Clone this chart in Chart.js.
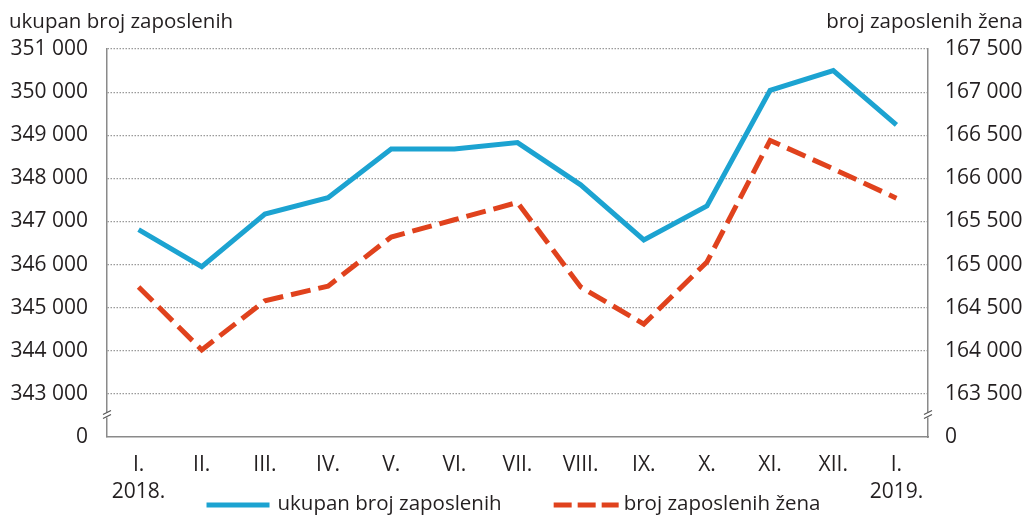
<!DOCTYPE html>
<html>
<head>
<meta charset="utf-8">
<script src="https://cdn.jsdelivr.net/npm/chart.js@4/dist/chart.umd.min.js"></script>
<style>
  html, body { margin: 0; padding: 0; background: #fff; overflow: hidden; }
  #wrap { position: relative; width: 1027px; height: 518px; }
</style>
</head>
<body>
<div id="wrap"><canvas id="chart"></canvas></div>
<script>
// months on the x axis, year under the first and the last one
const months = ['I.', 'II.', 'III.', 'IV.', 'V.', 'VI.', 'VII.', 'VIII.', 'IX.', 'X.', 'XI.', 'XII.', 'I.'];
const years = ['2018.', '', '', '', '', '', '', '', '', '', '', '', '2019.'];

// ukupan broj zaposlenih (left axis)
const totalEmployed = [346810, 345950, 347170, 347550, 348680, 348680, 348830, 347850, 346570, 347360, 350040, 350500, 349240];
// broj zaposlenih žena (right axis)
const womenEmployed = [164740, 164010, 164580, 164750, 165320, 165520, 165720, 164740, 164310, 165030, 166440, 166110, 165770];

// axis ranges; the lowest tick is shown as 0 (broken axis)
const leftMin = 342000, leftMax = 351000, leftStep = 1000;
const rightMin = 163000, rightMax = 167500, rightStep = 500;

const labels = months.map((m, i) => years[i] ? [m, years[i]] : m);

const FONT = "'Open Sans', 'Noto Sans', sans-serif";
const TXT = '#231f20';
const AXIS = '#8a8a8a';

function fmt(v) {
  return String(v).replace(/\B(?=(\d{3})+(?!\d))/g, ' ');
}

// titles, axis breaks and the legend (legend overlaps the x label rows, so it is drawn here)
const extras = {
  id: 'extras',
  afterDraw(chart) {
    const ctx = chart.ctx;
    const area = chart.chartArea;
    ctx.save();
    ctx.fillStyle = TXT;
    ctx.font = '20.5px ' + FONT;
    ctx.textBaseline = 'alphabetic';
    ctx.textAlign = 'left';
    ctx.fillText('ukupan broj zaposlenih', 9, 28);
    ctx.textAlign = 'right';
    ctx.fillText('broj zaposlenih žena', chart.width - 4, 28);

    // axis break marks
    for (const id of ['y', 'y1']) {
      const s = chart.scales[id];
      const x = id === 'y' ? area.left : area.right;
      const y = s.getPixelForValue(s.min + s.options.ticks.stepSize / 2);
      ctx.fillStyle = '#fff';
      ctx.fillRect(x - 2, y - 3, 4, 5);
      ctx.strokeStyle = '#555';
      ctx.lineWidth = 1.2;
      ctx.beginPath();
      ctx.moveTo(x - 4, y - 1); ctx.lineTo(x + 4, y - 5);
      ctx.moveTo(x - 4, y + 3); ctx.lineTo(x + 4, y - 1);
      ctx.stroke();
    }

    // legend
    const ly = 505;
    const markW = [63, 65];
    const gap = [8, 5];
    const sep = 52;
    ctx.font = '20.5px ' + FONT;
    const dsets = chart.data.datasets;
    const tw = dsets.map(d => ctx.measureText(d.label).width);
    const total = markW[0] + gap[0] + tw[0] + sep + markW[1] + gap[1] + tw[1];
    let x = chart.width / 2 - total / 2;
    dsets.forEach((d, i) => {
      ctx.strokeStyle = d.borderColor;
      ctx.lineWidth = d.borderWidth;
      ctx.setLineDash(d.borderDash ? [18, 6] : []);
      ctx.beginPath();
      ctx.moveTo(x, ly); ctx.lineTo(x + markW[i], ly);
      ctx.stroke();
      ctx.setLineDash([]);
      x += markW[i] + gap[i];
      ctx.fillStyle = TXT;
      ctx.textAlign = 'left';
      ctx.textBaseline = 'middle';
      ctx.fillText(d.label, x, ly - 1);
      x += tw[i] + sep;
    });
    ctx.restore();
  }
};

new Chart(document.getElementById('chart'), {
  type: 'line',
  data: {
    labels: labels,
    datasets: [
      {
        label: 'ukupan broj zaposlenih',
        data: totalEmployed,
        yAxisID: 'y',
        borderColor: '#1ca3d1',
        backgroundColor: '#1ca3d1',
        borderWidth: 5,
        borderJoinStyle: 'miter',
        pointRadius: 0,
        tension: 0
      },
      {
        label: 'broj zaposlenih žena',
        data: womenEmployed,
        yAxisID: 'y1',
        borderColor: '#e0421d',
        backgroundColor: '#e0421d',
        borderWidth: 5,
        borderDash: [20, 8],
        borderJoinStyle: 'miter',
        pointRadius: 0,
        tension: 0
      }
    ]
  },
  options: {
    responsive: true,
    maintainAspectRatio: false,
    animation: false,
    layout: { padding: { top: 49, left: 0, right: 0, bottom: 12 } },
    plugins: {
      title: { display: false },
      tooltip: { enabled: false },
      legend: { display: false }
    },
    scales: {
      x: {
        offset: true,
        grid: { display: false, drawTicks: false },
        border: { display: true, color: AXIS, width: 1.5 },
        ticks: {
          color: TXT,
          padding: 14,
          maxRotation: 0,
          autoSkip: false,
          font: { family: FONT, size: 21, lineHeight: 1.3 }
        },
        afterFit(scale) { scale.height = 69; }
      },
      y: {
        position: 'left',
        min: leftMin,
        max: leftMax,
        grid: {
          drawTicks: false,
          lineWidth: 1.2,
          color: c => c.tick && c.tick.value === leftMin ? 'rgba(0,0,0,0)' : '#9a9a9a'
        },
        border: { display: true, color: AXIS, width: 1.5, dash: [1.5, 1.5] },
        ticks: {
          stepSize: leftStep,
          padding: 19,
          color: TXT,
          font: { family: FONT, size: 21 },
          callback: v => v === leftMin ? '0' : fmt(v)
        },
        afterFit(scale) { scale.width = 107; }
      },
      y1: {
        position: 'right',
        min: rightMin,
        max: rightMax,
        grid: { drawOnChartArea: false, drawTicks: false },
        border: { display: true, color: AXIS, width: 1.5 },
        ticks: {
          stepSize: rightStep,
          padding: 17,
          color: TXT,
          font: { family: FONT, size: 21 },
          callback: v => v === rightMin ? '0' : fmt(v)
        },
        afterFit(scale) { scale.width = 99; }
      }
    }
  },
  plugins: [extras]
});
</script>
</body>
</html>
